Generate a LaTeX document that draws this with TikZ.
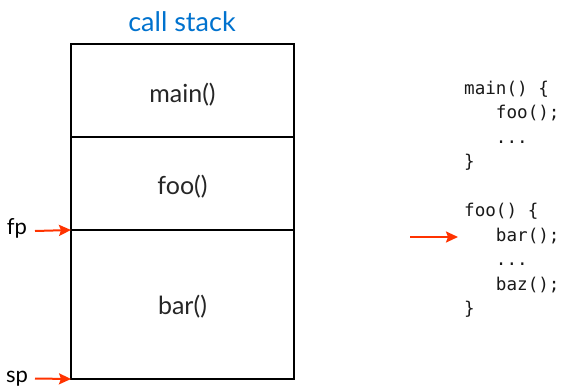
\documentclass[tikz,border=0pt]{standalone}
\usepackage{fontspec}
\setmainfont{Lato}
\newfontfamily\codefont{DejaVu Sans Mono}
\usetikzlibrary{arrows.meta}
\definecolor{titleblue}{RGB}{0,114,206}
\definecolor{ptrred}{RGB}{255,51,0}
\begin{document}
\begin{tikzpicture}[x=1pt,y=-1pt,
  frame/.style={draw=black,line width=1.4pt,minimum width=223pt,inner sep=0pt,outer sep=0pt},
  flabel/.style={font=\fontsize{25}{28}\selectfont,text=black!85,inner sep=0pt},
  ptr/.style={draw=ptrred,line width=2pt,-{Stealth[length=12pt,width=11pt,inset=2pt]}},
  lbl/.style={font=\fontsize{22}{26}\selectfont,inner sep=0pt},
  code/.style={anchor=base west,font=\codefont\fontsize{17.6}{20}\selectfont,inner sep=0pt,text=black!90}]
\useasboundingbox (0,0) rectangle (561,388);
\node[font=\fontsize{27}{30}\selectfont,text=titleblue] (title) at (182,22) {call stack};
\node[frame,minimum height=93pt] (main) at (182.5,90.5) {};
\node[frame,minimum height=93pt] (foo) at (182.5,183.5) {};
\node[frame,minimum height=149pt] (bar) at (182.5,304.5) {};
\node[flabel] (mainl) at (182.5,95) {main()};
\node[flabel] (fool) at (182.5,187) {foo()};
\node[flabel] (barl) at (182.5,307) {bar()};
\node[lbl] (fp) at (17,228) {fp};
\node[lbl] (sp) at (17,379) {sp};
\coordinate (fpa) at (35,231);
\coordinate (spa) at (35,378.5);
\draw[ptr] (fpa) -- (bar.north west);
\draw[ptr] (spa) -- (bar.south west);
\node[code] (c1) at (464,94) {main() \{};
\node[code] (c2) at (464,118.5) {\ \ \ foo();};
\node[code] (c3) at (464,143) {\ \ \ ...};
\node[code] (c4) at (464,167.5) {\}};
\node[code] (c5) at (464,216.5) {foo() \{};
\node[code] (c6) at (464,241) {\ \ \ bar();};
\node[code] (c7) at (464,265.5) {\ \ \ ...};
\node[code] (c8) at (464,290) {\ \ \ baz();};
\node[code] (c9) at (464,314.5) {\}};
\coordinate (ca) at (410,237);
\draw[ptr] (ca) -- (458,237);
\end{tikzpicture}
\end{document}
